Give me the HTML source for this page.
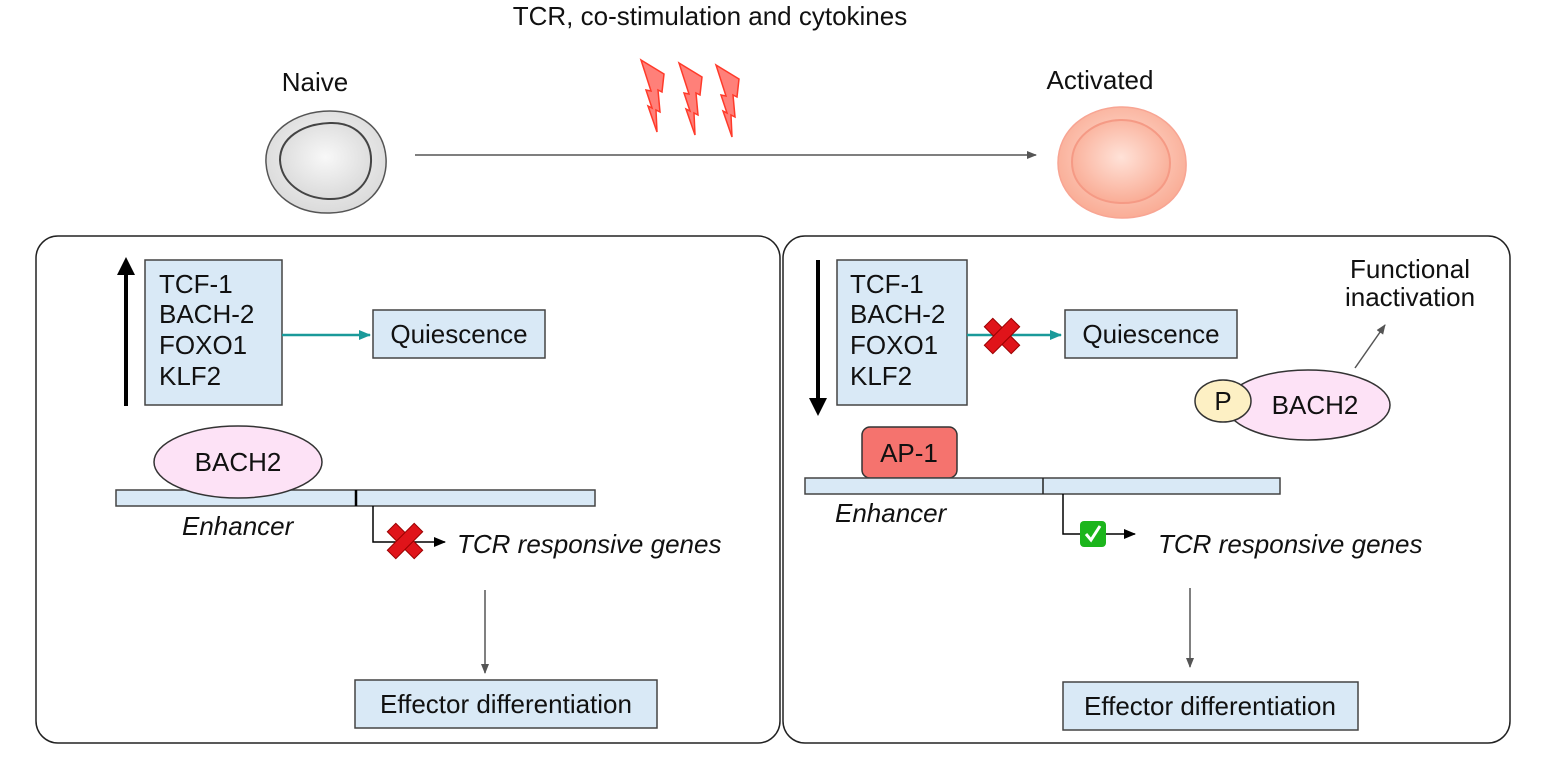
<!DOCTYPE html>
<html><head><meta charset="utf-8"><style>
html,body{margin:0;padding:0;background:#fff;}
svg{display:block;}
text{font-family:"Liberation Sans",Arial,sans-serif;fill:#111;}
</style></head><body>
<svg width="1541" height="772" viewBox="0 0 1541 772" xmlns="http://www.w3.org/2000/svg">
<defs>
<marker id="ag" markerWidth="10" markerHeight="10" refX="9" refY="5" orient="auto" markerUnits="userSpaceOnUse"><path d="M0,1 L10,5 L0,9 z" fill="#555"/></marker>
<marker id="ak" markerWidth="12" markerHeight="12" refX="11" refY="6" orient="auto" markerUnits="userSpaceOnUse"><path d="M0,1 L12,6 L0,11 z" fill="#000"/></marker>
<marker id="at" markerWidth="12" markerHeight="12" refX="11" refY="6" orient="auto" markerUnits="userSpaceOnUse"><path d="M0,1 L12,6 L0,11 z" fill="#1a9a9a"/></marker>
<radialGradient id="gg" cx="50%" cy="45%" r="60%"><stop offset="0" stop-color="#f8f8f8"/><stop offset="1" stop-color="#d8d8d8"/></radialGradient>
<radialGradient id="gr" cx="50%" cy="45%" r="60%"><stop offset="0" stop-color="#ffe2d8"/><stop offset="1" stop-color="#f9a890"/></radialGradient>
</defs>

<text x="710" y="25" font-size="26" text-anchor="middle">TCR, co-stimulation and cytokines</text>
<text x="315" y="91" font-size="26" text-anchor="middle">Naive</text>
<text x="1100" y="89" font-size="26" text-anchor="middle">Activated</text>

<g fill="#ff8079" stroke="#ff3a2a" stroke-width="1.5">
<path d="M641,60 L664,74 L662,92 L658,90 L660,112 L656,110 L657,132 L648,106 L652,108 L646,90 L651,91 Z"/>
<path d="M679,63 L702,77 L700,95 L696,93 L698,115 L694,113 L695,135 L686,109 L690,111 L684,93 L689,94 Z"/>
<path d="M716,65 L739,79 L737,97 L733,95 L735,117 L731,115 L732,137 L723,111 L727,113 L721,95 L726,96 Z"/>
</g>

<path d="M330,111 C360,111 384,128 386,158 C388,188 366,212 330,213 C296,214 268,195 266,163 C264,133 294,111 330,111 Z" fill="url(#gg)" stroke="#555" stroke-width="1.5"/>
<path d="M330,123 C356,122 372,140 371,162 C370,185 352,200 328,199 C302,198 281,182 280,160 C280,138 302,124 330,123 Z" fill="url(#gg)" stroke="#444" stroke-width="2"/>
<path d="M1120,107 C1155,106 1185,130 1186,162 C1188,195 1160,218 1122,218 C1088,218 1058,196 1058,163 C1058,130 1086,108 1120,107 Z" fill="url(#gr)" stroke="#f8a593" stroke-width="1.5"/>
<path d="M1120,120 C1148,119 1170,140 1170,163 C1170,188 1148,204 1120,203 C1094,202 1072,186 1072,162 C1072,138 1094,121 1120,120 Z" fill="url(#gr)" stroke="#f59a85" stroke-width="2"/>
<line x1="415" y1="155" x2="1036" y2="155" stroke="#555" stroke-width="1.5" marker-end="url(#ag)"/>

<rect x="36" y="236" width="744" height="507" rx="22" fill="none" stroke="#222" stroke-width="1.5"/>
<rect x="783" y="236" width="727" height="507" rx="22" fill="none" stroke="#222" stroke-width="1.5"/>

<!-- LEFT -->
<line x1="126" y1="406" x2="126" y2="272" stroke="#000" stroke-width="4"/>
<polygon points="126,257 135,275 117,275" fill="#000"/>
<rect x="145" y="260" width="137" height="145" fill="#d9e9f6" stroke="#444" stroke-width="1.5"/>
<g font-size="26"><text x="159" y="293">TCF-1</text><text x="159" y="323">BACH-2</text><text x="159" y="354">FOXO1</text><text x="159" y="385">KLF2</text></g>
<line x1="282" y1="335" x2="370" y2="335" stroke="#1a9a9a" stroke-width="2.5" marker-end="url(#at)"/>
<rect x="373" y="310" width="172" height="48" fill="#d9e9f6" stroke="#444" stroke-width="1.5"/>
<text x="459" y="343" font-size="26" text-anchor="middle">Quiescence</text>
<rect x="116" y="490" width="479" height="16" fill="#d9e9f6" stroke="#444" stroke-width="1.5"/>
<line x1="356" y1="490" x2="356" y2="506" stroke="#000" stroke-width="2.5"/>
<ellipse cx="238" cy="462" rx="84" ry="36" fill="#fde2f6" stroke="#333" stroke-width="1.5"/>
<text x="238" y="471" font-size="26" text-anchor="middle">BACH2</text>
<text x="182" y="535" font-size="26" font-style="italic">Enhancer</text>
<polyline points="373,506 373,542 445,542" fill="none" stroke="#000" stroke-width="1.5" marker-end="url(#ak)"/>
<g transform="translate(405,541) rotate(45)"><rect x="-19" y="-6" width="38" height="12" fill="#e0141a" stroke="#900" stroke-width="1"/><rect x="-6" y="-19" width="12" height="38" fill="#e0141a" stroke="#900" stroke-width="1"/><rect x="-5" y="-5" width="10" height="10" fill="#e0141a"/></g>
<text x="457" y="553" font-size="26" font-style="italic">TCR responsive genes</text>
<line x1="485" y1="590" x2="485" y2="673" stroke="#555" stroke-width="1.5" marker-end="url(#ag)"/>
<rect x="355" y="680" width="302" height="48" fill="#d9e9f6" stroke="#444" stroke-width="1.5"/>
<text x="506" y="713" font-size="26" text-anchor="middle">Effector differentiation</text>

<!-- RIGHT -->
<line x1="818" y1="260" x2="818" y2="401" stroke="#000" stroke-width="4"/>
<polygon points="818,416 827,398 809,398" fill="#000"/>
<rect x="837" y="260" width="130" height="145" fill="#d9e9f6" stroke="#444" stroke-width="1.5"/>
<g font-size="26"><text x="850" y="293">TCF-1</text><text x="850" y="323">BACH-2</text><text x="850" y="354">FOXO1</text><text x="850" y="385">KLF2</text></g>
<line x1="967" y1="335" x2="1061" y2="335" stroke="#1a9a9a" stroke-width="2.5" marker-end="url(#at)"/>
<g transform="translate(1002,336) rotate(45)"><rect x="-19" y="-6" width="38" height="12" fill="#e0141a" stroke="#900" stroke-width="1"/><rect x="-6" y="-19" width="12" height="38" fill="#e0141a" stroke="#900" stroke-width="1"/><rect x="-5" y="-5" width="10" height="10" fill="#e0141a"/></g>
<rect x="1065" y="310" width="172" height="48" fill="#d9e9f6" stroke="#444" stroke-width="1.5"/>
<text x="1151" y="343" font-size="26" text-anchor="middle">Quiescence</text>
<text x="1410" y="278" font-size="26" text-anchor="middle">Functional</text>
<text x="1410" y="306" font-size="26" text-anchor="middle">inactivation</text>
<line x1="1355" y1="368" x2="1385" y2="325" stroke="#555" stroke-width="1.5" marker-end="url(#ag)"/>
<ellipse cx="1308" cy="405" rx="82" ry="35" fill="#fde2f6" stroke="#333" stroke-width="1.5"/>
<ellipse cx="1223" cy="401" rx="28" ry="21" fill="#fdf0c4" stroke="#333" stroke-width="1.5"/>
<text x="1223" y="410" font-size="26" text-anchor="middle">P</text>
<text x="1315" y="414" font-size="26" text-anchor="middle">BACH2</text>
<rect x="862" y="427" width="95" height="51" rx="8" fill="#f5736e" stroke="#333" stroke-width="1.5"/>
<text x="909" y="462" font-size="26" text-anchor="middle">AP-1</text>
<rect x="805" y="478" width="475" height="16" fill="#d9e9f6" stroke="#444" stroke-width="1.5"/>
<line x1="1043" y1="478" x2="1043" y2="494" stroke="#222" stroke-width="1.5"/>
<text x="835" y="522" font-size="26" font-style="italic">Enhancer</text>
<polyline points="1063,494 1063,534 1135,534" fill="none" stroke="#000" stroke-width="1.5" marker-end="url(#ak)"/>
<rect x="1080" y="521" width="26" height="26" rx="4" fill="#1cb51c"/>
<path d="M1086,534 L1091,540 L1100,526" fill="none" stroke="#fff" stroke-width="3"/>
<text x="1158" y="553" font-size="26" font-style="italic">TCR responsive genes</text>
<line x1="1190" y1="588" x2="1190" y2="667" stroke="#555" stroke-width="1.5" marker-end="url(#ag)"/>
<rect x="1063" y="682" width="295" height="48" fill="#d9e9f6" stroke="#444" stroke-width="1.5"/>
<text x="1210" y="715" font-size="26" text-anchor="middle">Effector differentiation</text>
</svg>
</body></html>
